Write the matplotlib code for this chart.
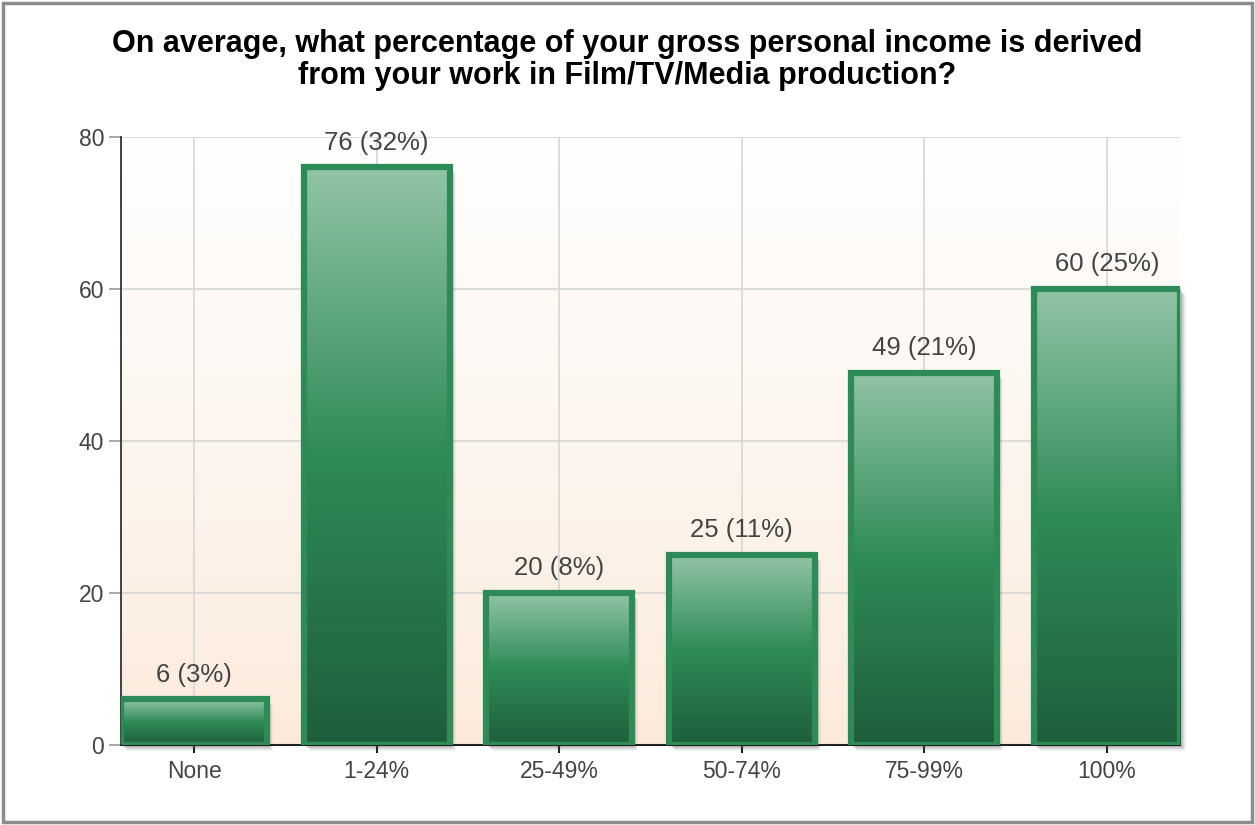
import numpy as np
import matplotlib
matplotlib.use("Agg")
import matplotlib.pyplot as plt
from matplotlib.colors import LinearSegmentedColormap
from matplotlib.patches import Rectangle
import matplotlib.transforms as mtransforms

plt.rcParams['font.family'] = ['Liberation Sans', 'DejaVu Sans']

categories = ["None", "1-24%", "25-49%", "50-74%", "75-99%", "100%"]
counts = [6, 76, 20, 25, 49, 60]
percents = [3, 32, 8, 11, 21, 25]
y_ticks = [0, 20, 40, 60, 80]
title = ("On average, what percentage of your gross personal income is derived\n"
         "from your work in Film/TV/Media production?")

W, H = 1255, 825
fig = plt.figure(figsize=(W / 100, H / 100), dpi=100)

# outer frame
fig.patches.append(Rectangle((3 / W, 3 / H), (W - 6) / W, (H - 6) / H,
                             transform=fig.transFigure, fill=False,
                             edgecolor="#8c8c8c", linewidth=2.5))

ax = fig.add_axes([121 / W, (H - 745) / H, (1180 - 121) / W, (745 - 137) / H])
ax.set_xlim(-0.4, len(categories) - 0.6)
ax.set_ylim(0, 80)

# plot-area gradient: white at top to soft peach at bottom
bg = LinearSegmentedColormap.from_list("bg", ["#fcebdc", "#fdf6ef", "#ffffff"])
ax.imshow(np.linspace(0, 1, 256).reshape(-1, 1), cmap=bg, aspect="auto",
          extent=[-0.4, len(categories) - 0.6, 0, 80], origin="lower", zorder=0)

ax.set_yticks(y_ticks)
ax.set_xticks(range(len(categories)))
ax.set_xticklabels(categories)
ax.grid(True, color="#d6d6d6", linewidth=1.2, zorder=1)
ax.set_axisbelow(True)

for s in ["top", "right"]:
    ax.spines[s].set_visible(False)
ax.spines["left"].set_color("#333333")
ax.spines["bottom"].set_color("#222222")
ax.spines["left"].set_linewidth(1.3)
ax.spines["bottom"].set_linewidth(1.5)
ax.tick_params(axis="y", colors="#999999", labelcolor="#444444", labelsize=16.5,
               length=9, width=1.2, pad=3)
ax.tick_params(axis="x", colors="#222222", labelcolor="#444444", labelsize=16.5,
               length=6, width=1.5, pad=5)

bar_cmap = LinearSegmentedColormap.from_list(
    "bar", [(0.0, "#1f5e3c"), (0.5, "#2e8b57"), (1.0, "#92c4a6")])
grad = np.linspace(0, 1, 256).reshape(-1, 1)
width = 0.8

for i, (c, p) in enumerate(zip(counts, percents)):
    x0 = i - width / 2
    # soft drop shadow
    for k, a in [(6, 0.06), (5, 0.08), (4, 0.10), (3, 0.12), (2, 0.14)]:
        off = mtransforms.offset_copy(ax.transData, fig=fig, x=k * 0.72, y=-k * 0.72,
                                      units="points")
        ax.add_patch(Rectangle((x0, 0), width, c, transform=off,
                               facecolor="#555555", alpha=a, edgecolor="none",
                               zorder=2, clip_on=False))
    rect = Rectangle((x0, 0), width, c, facecolor="none", edgecolor="#2e8b57",
                     linewidth=4.5, zorder=4, transform=ax.transData)
    im = ax.imshow(grad, cmap=bar_cmap, aspect="auto", origin="lower",
                   extent=[x0, x0 + width, 0, c], zorder=3)
    clip = Rectangle((x0, 0), width, c, transform=ax.transData)
    im.set_clip_path(clip)
    ax.add_patch(rect)
    ax.annotate(f"{c} ({p}%)", (i, c), xytext=(0, 9), textcoords="offset points",
                ha="center", va="bottom", fontsize=18.5, color="#444444", zorder=5)

ax.set_xlim(-0.4, len(categories) - 0.6)
ax.set_ylim(0, 80)

fig.text(0.5, 1 - 60 / H, title, ha="center", va="center", fontsize=22,
         fontweight="bold", color="#000000", linespacing=1.05)

fig.savefig("out.png", dpi=100)
